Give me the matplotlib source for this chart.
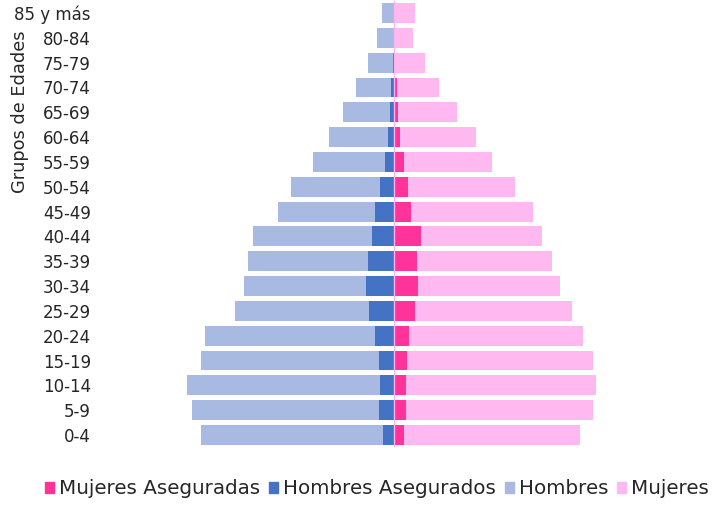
import matplotlib.pyplot as plt
import numpy as np
from matplotlib.patches import Patch

# age groups, youngest first (bottom of the pyramid)
grupos = ["0-4", "5-9", "10-14", "15-19", "20-24", "25-29", "30-34", "35-39",
          "40-44", "45-49", "50-54", "55-59", "60-64", "65-69", "70-74",
          "75-79", "80-84", "85 y más"]

hombres = [193.3, 202.0, 206.7, 193.3, 188.7, 159.0, 150.0, 145.7, 141.0,
           115.7, 103.3, 81.3, 64.7, 51.3, 38.0, 25.7, 17.0, 12.3]
hombres_aseg = [11.3, 14.7, 13.7, 14.7, 19.0, 24.7, 28.0, 25.7, 22.3,
                19.0, 13.7, 9.0, 5.7, 4.0, 3.0, 1.3, 0.0, 0.0]
mujeres = [185.7, 199.0, 202.3, 199.0, 189.0, 177.7, 165.7, 157.7, 147.7,
           139.0, 121.3, 98.3, 82.3, 62.7, 44.7, 31.3, 19.3, 21.3]
mujeres_aseg = [9.7, 11.7, 11.7, 13.0, 15.0, 20.7, 24.0, 22.7, 27.3,
                17.3, 14.3, 9.7, 6.3, 4.0, 2.7, 1.4, 0.0, 0.0]

c_h = '#a8b9e2'
c_ha = '#4472c4'
c_m = '#ffb8f0'
c_ma = '#ff3399'
txt = '#262626'

fig = plt.figure(figsize=(7.15, 5.05), dpi=100)
ax = fig.add_axes([95/715, 57.6/505, 595/715, 446.8/505])

y = np.arange(len(grupos))
h = 0.8
ax.barh(y, -np.array(hombres), height=h, color=c_h, zorder=2)
ax.barh(y, mujeres, height=h, color=c_m, zorder=2)
ax.barh(y, -np.array(hombres_aseg), height=h, color=c_ha, zorder=3)
ax.barh(y, mujeres_aseg, height=h, color=c_ma, zorder=3)
ax.axvline(0, color='#ffb3ee', lw=1, zorder=4)

ax.set_xlim(-299, 296)
ax.set_ylim(-0.5, len(grupos) - 0.5)
ax.set_yticks(y)
ax.set_yticklabels(grupos, fontsize=12, color=txt)
ax.tick_params(axis='y', length=0, pad=3)
ax.set_xticks([])
for s in ax.spines.values():
    s.set_visible(False)

fig.text(20/715, 1 - 112/505, "Grupos de Edades", rotation=90,
         ha='center', va='center', fontsize=12.8, color=txt)

handles = [Patch(color=c_ma), Patch(color=c_ha), Patch(color=c_h), Patch(color=c_m)]
labels = ["Mujeres Aseguradas", "Hombres Asegurados", "Hombres", "Mujeres"]
fig.legend(handles, labels, loc='center', bbox_to_anchor=(377/715, 16/505),
           ncol=4, frameon=False, fontsize=14.3, handlelength=0.45,
           handleheight=0.45, handletextpad=0.25, columnspacing=0.45,
           labelcolor=txt)

fig.savefig("out.png", dpi=100)
